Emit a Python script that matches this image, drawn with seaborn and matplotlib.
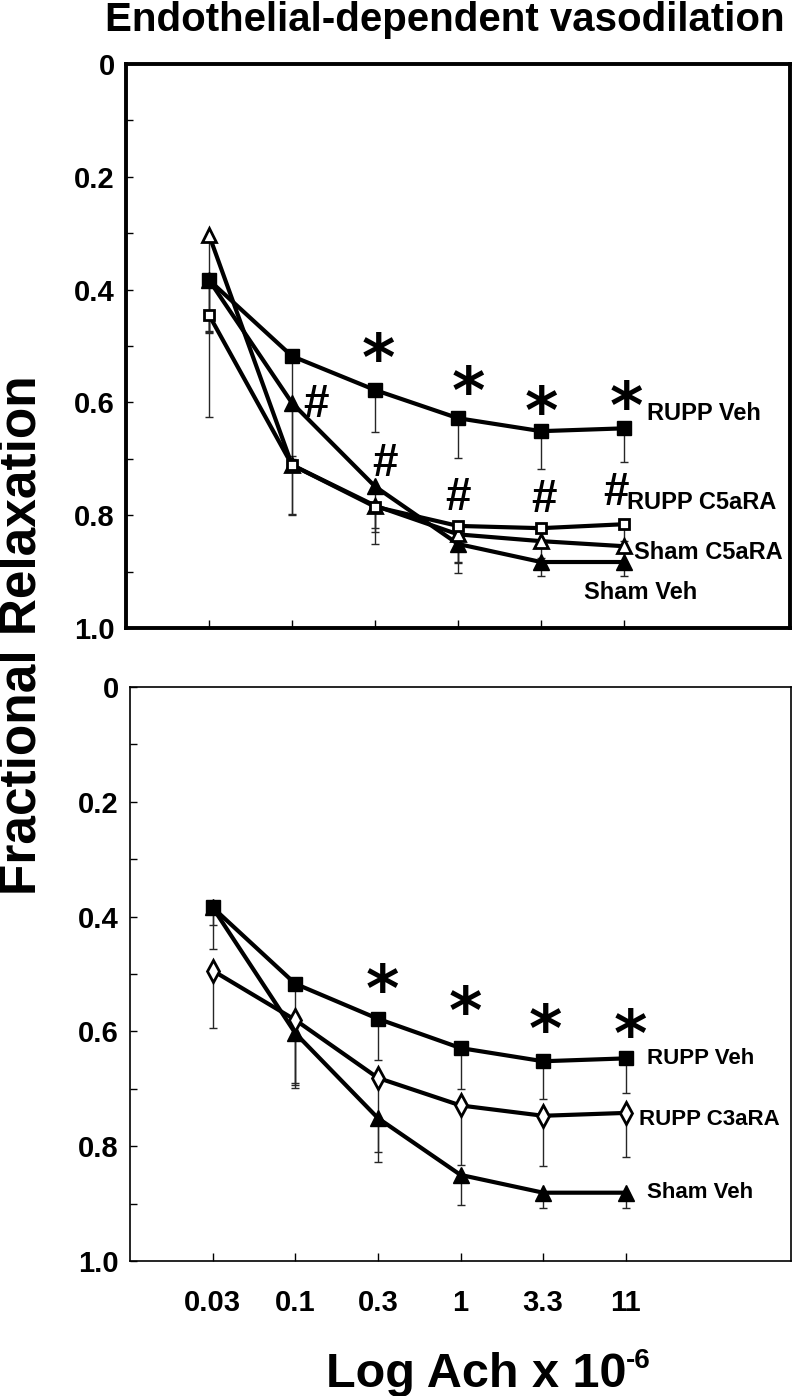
"""Endothelial-dependent vasodilation: two stacked dose-response panels."""

import matplotlib

matplotlib.use("Agg")

import matplotlib.pyplot as plt
import numpy as np
import seaborn as sns

# ---- data (fractional relaxation, one-sided SEM drawn downward) ----
doses = ["0.03", "0.1", "0.3", "1", "3.3", "11"]

# top panel: C5a receptor antagonist
top_rupp_veh = [0.383, 0.518, 0.578, 0.628, 0.651, 0.646]
top_rupp_veh_sem = [0.094, 0.177, 0.074, 0.071, 0.067, 0.060]
top_rupp_c5 = [0.445, 0.711, 0.785, 0.819, 0.823, 0.816]
top_rupp_c5_sem = [0.031, 0.086, 0.066, 0.064, 0.030, 0.030]
top_sham_c5 = [0.303, 0.711, 0.783, 0.834, 0.846, 0.855]
top_sham_c5_sem = [0.323, 0.089, 0.040, 0.050, 0.030, 0.030]
top_sham_veh = [0.383, 0.601, 0.749, 0.851, 0.883, 0.883]
top_sham_veh_sem = [0.090, 0.100, 0.080, 0.051, 0.025, 0.024]

# bottom panel: C3a receptor antagonist
bot_rupp_veh = [0.384, 0.517, 0.578, 0.629, 0.652, 0.647]
bot_rupp_veh_sem = [0.072, 0.176, 0.072, 0.071, 0.066, 0.060]
bot_rupp_c3 = [0.494, 0.580, 0.681, 0.729, 0.747, 0.742]
bot_rupp_c3_sem = [0.100, 0.110, 0.129, 0.104, 0.087, 0.076]
bot_sham_veh = [0.384, 0.603, 0.751, 0.850, 0.881, 0.881]
bot_sham_veh_sem = [0.030, 0.096, 0.076, 0.052, 0.026, 0.026]

# significance marks: dose index of each mark
top_star_idx = [2, 3, 4, 5]
top_hash_idx = [1, 2, 3, 4, 5]
bot_star_idx = [2, 3, 4, 5]

sns.set_theme(style="ticks")
plt.rcParams["font.family"] = ["Liberation Sans", "DejaVu Sans"]
plt.rcParams["font.weight"] = "bold"
for key in ("text.color", "axes.labelcolor", "xtick.color", "ytick.color",
            "axes.edgecolor"):
    plt.rcParams[key] = "black"

W, H = 800, 1396
fig = plt.figure(figsize=(W / 100, H / 100), dpi=100)
fig.patch.set_facecolor("white")


def px(v):
    """pixels -> points at 100 dpi"""
    return v * 0.72


def frame(ax, spine_lw, show_xlabels):
    x = np.arange(len(doses))
    ax.set_facecolor("white")
    ax.set_xlim(-1, 7)
    ax.set_ylim(1.0, 0.0)
    ax.set_xticks(x)
    ax.set_xticklabels(doses if show_xlabels else [""] * len(doses),
                       fontsize=21, fontweight="bold")
    ax.set_yticks([0, 0.2, 0.4, 0.6, 0.8, 1.0])
    ax.set_yticklabels(["0", "0.2", "0.4", "0.6", "0.8", "1.0"],
                       fontsize=21, fontweight="bold")
    ax.set_yticks([0.1, 0.3, 0.5, 0.7, 0.9], minor=True)
    ax.tick_params(axis="y", which="both", direction="in", length=5,
                   width=1, pad=8, left=True, right=False)
    ax.tick_params(axis="x", direction="in", length=6, width=1, pad=20,
                   top=False)
    for sp in ax.spines.values():
        sp.set_visible(True)
        sp.set_linewidth(spine_lw)
        sp.set_color("black")
    ax.grid(False)


def series(ax, vals, sem, marker, filled, ms, z):
    x = np.arange(len(vals))
    ax.errorbar(x, vals, yerr=[np.zeros(len(sem)), sem], fmt="none",
                ecolor="#262626", elinewidth=1.0, capsize=3.2, capthick=1.0,
                zorder=1)
    sns.lineplot(x=x, y=vals, ax=ax, color="black", lw=3.0, marker=marker,
                 markersize=ms, markerfacecolor="black" if filled else "white",
                 markeredgecolor="black", markeredgewidth=1.0 if filled else 2.0,
                 zorder=z, legend=False)


def mark(ax, text, i, y, dx, dy, fs, family=None, ha="center", lift=0.0):
    # lift: fraction of the font size the glyph sits above the box centre
    kw = {} if family is None else {"family": family}
    ax.annotate(text, xy=(i, y), xytext=(px(dx), px(dy) - lift * fs),
                textcoords="offset points", ha=ha, va="center",
                fontsize=fs, fontweight="bold", zorder=6, **kw)


STAR_FS = 46
STAR_LIFT = 0.19

# ---------------- top panel ----------------
ax1 = fig.add_axes([126 / W, 1 - 628 / H, (790 - 126) / W, (628 - 64) / H])
frame(ax1, 2.8, False)
series(ax1, top_sham_veh, top_sham_veh_sem, "^", True, 11, 2)
series(ax1, top_sham_c5, top_sham_c5_sem, "^", False, 10, 3)
series(ax1, top_rupp_c5, top_rupp_c5_sem, "s", False, 7.5, 4)
series(ax1, top_rupp_veh, top_rupp_veh_sem, "s", True, 9.5, 5)

star_off_top = [(3, 40), (10, 35), (0, 28), (2, 30)]
for i, (dx, dy) in zip(top_star_idx, star_off_top):
    mark(ax1, "*", i, top_rupp_veh[i], dx, dy, STAR_FS, family="DejaVu Sans",
         lift=STAR_LIFT)
hash_off_top = [(24, 60), (10, 43), (0, 28), (3, 28), (-8, 31)]
for i, (dx, dy) in zip(top_hash_idx, hash_off_top):
    mark(ax1, "#", i, top_rupp_c5[i], dx, dy, 33)

last = len(doses) - 1
mark(ax1, "RUPP Veh", last, top_rupp_veh[last], 23, 15, 17, ha="left")
mark(ax1, "RUPP C5aRA", last, top_rupp_c5[last], 3, 22, 17, ha="left")
mark(ax1, "Sham C5aRA", last, top_sham_c5[last], 10, -6, 17, ha="left")
mark(ax1, "Sham Veh", last, top_sham_veh[last], -40, -30, 17, ha="left")

# ---------------- bottom panel ----------------
ax2 = fig.add_axes([130 / W, 1 - 1261 / H, (791 - 130) / W, (1261 - 687) / H])
frame(ax2, 1.2, True)
series(ax2, bot_sham_veh, bot_sham_veh_sem, "^", True, 11, 2)
series(ax2, bot_rupp_c3, bot_rupp_c3_sem, "d", False, 11, 3)
series(ax2, bot_rupp_veh, bot_rupp_veh_sem, "s", True, 9.5, 5)

star_off_bot = [(4, 38), (5, 45), (2, 40), (5, 33)]
for i, (dx, dy) in zip(bot_star_idx, star_off_bot):
    mark(ax2, "*", i, bot_rupp_veh[i], dx, dy, STAR_FS, family="DejaVu Sans",
         lift=STAR_LIFT)

mark(ax2, "RUPP Veh", last, bot_rupp_veh[last], 21, 0, 16, ha="left")
mark(ax2, "RUPP C3aRA", last, bot_rupp_c3[last], 13, -7, 16, ha="left")
mark(ax2, "Sham Veh", last, bot_sham_veh[last], 21, 0, 16, ha="left")

# ---------------- figure texts ----------------
fig.text(445 / W, 1 - 20 / H, "Endothelial-dependent vasodilation",
         ha="center", va="center", fontsize=29, fontweight="bold")
fig.text(22 / W, 1 - 635 / H, "Fractional Relaxation", rotation=90,
         ha="center", va="center", fontsize=37, fontweight="bold")
fig.text(627 / W, 1 - 1387 / H, "Log Ach x 10",
         ha="right", va="baseline", fontsize=35, fontweight="bold")
fig.text(626 / W, 1 - 1368 / H, "-6",
         ha="left", va="baseline", fontsize=20, fontweight="bold")

fig.savefig("out.png", dpi=100)
plt.close(fig)
